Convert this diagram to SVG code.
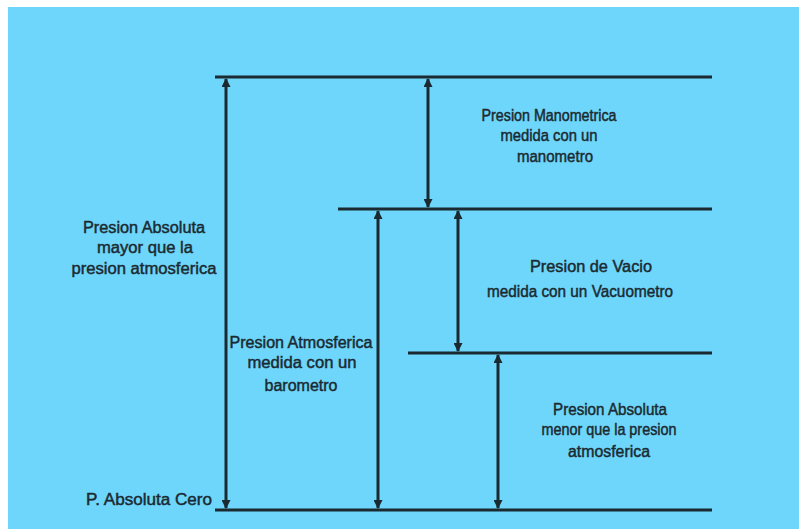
<svg xmlns="http://www.w3.org/2000/svg" width="799" height="529" viewBox="0 0 799 529">
  <style>
    .lvl { stroke: #1b2a31; stroke-width: 3.2; fill: none; }
    .arr { stroke: #1b2a31; stroke-width: 3; fill: none; marker-start: url(#ah); marker-end: url(#ah); }
    text { font-family: "Liberation Sans", Arial, sans-serif; font-size: 16px; fill: #1b2a31; text-anchor: middle; stroke: #1b2a31; stroke-width: 0.45; }
  </style>
  <defs>
    <marker id="ah" viewBox="0 0 10 10" refX="9" refY="5" markerWidth="10" markerHeight="9" markerUnits="userSpaceOnUse" orient="auto-start-reverse">
      <path d="M0,0 L10,5 L0,10 z" fill="#1b2a31"/>
    </marker>
  </defs>
  <rect x="0" y="0" width="799" height="529" fill="#ffffff"/>
  <rect x="8" y="7" width="791" height="522" fill="#6ed6fa"/>

  <g id="levels">
    <line id="top-level" class="lvl" x1="215" y1="77" x2="712" y2="77"/>
    <line id="atm-level" class="lvl" x1="338" y1="209" x2="712" y2="209"/>
    <line id="vac-level" class="lvl" x1="408" y1="353" x2="712" y2="353"/>
    <line id="zero-level" class="lvl" x1="215" y1="510" x2="712" y2="510"/>
  </g>

  <g id="connectors">
    <line class="arr" x1="226" y1="79" x2="226" y2="508"/>
    <line class="arr" x1="428" y1="79" x2="428" y2="207"/>
    <line class="arr" x1="378" y1="211" x2="378" y2="508"/>
    <line class="arr" x1="458" y1="211" x2="458" y2="351"/>
    <line class="arr" x1="498" y1="355" x2="498" y2="508"/>
  </g>

  <g id="manometrica">
    <text x="549" y="121" textLength="135" lengthAdjust="spacingAndGlyphs">Presion Manometrica</text>
    <text x="549" y="141" textLength="97" lengthAdjust="spacingAndGlyphs">medida con un</text>
    <text x="555" y="162" textLength="76" lengthAdjust="spacingAndGlyphs">manometro</text>
  </g>

  <g id="absoluta-mayor">
    <text x="144" y="233" textLength="122" lengthAdjust="spacingAndGlyphs">Presion Absoluta</text>
    <text x="145" y="253" textLength="96" lengthAdjust="spacingAndGlyphs">mayor que la</text>
    <text x="144" y="274" textLength="145" lengthAdjust="spacingAndGlyphs">presion atmosferica</text>
  </g>

  <g id="atmosferica">
    <text x="301" y="348" textLength="143" lengthAdjust="spacingAndGlyphs">Presion Atmosferica</text>
    <text x="302" y="368" textLength="109" lengthAdjust="spacingAndGlyphs">medida con un</text>
    <text x="301" y="391" textLength="73" lengthAdjust="spacingAndGlyphs">barometro</text>
  </g>

  <g id="vacio">
    <text x="591" y="272" textLength="122" lengthAdjust="spacingAndGlyphs">Presion de Vacio</text>
    <text x="580" y="297" textLength="186" lengthAdjust="spacingAndGlyphs">medida con un Vacuometro</text>
  </g>

  <g id="absoluta-menor">
    <text x="610" y="415" textLength="114" lengthAdjust="spacingAndGlyphs">Presion Absoluta</text>
    <text x="609" y="435" textLength="135" lengthAdjust="spacingAndGlyphs">menor que la presion</text>
    <text x="609" y="457" textLength="82" lengthAdjust="spacingAndGlyphs">atmosferica</text>
  </g>

  <g id="cero">
    <text x="149" y="505" font-size="19" textLength="126" lengthAdjust="spacingAndGlyphs">P. Absoluta Cero</text>
  </g>
</svg>
